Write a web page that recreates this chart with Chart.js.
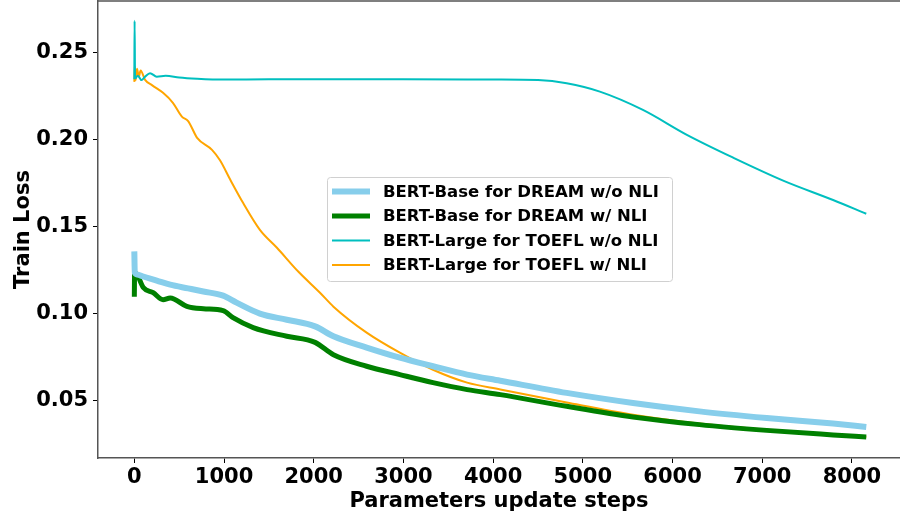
<!DOCTYPE html>
<html>
<head>
<meta charset="utf-8">
<script src="https://cdn.jsdelivr.net/npm/chart.js@4/dist/chart.umd.min.js"></script>
<style>
	html, body { margin: 0; padding: 0; background: #fff; }
	#lossChart { display: block; }
</style>
</head>
<body>
<canvas id="lossChart" width="900" height="516"></canvas>
<script>
const seriesLabels = [
	"BERT-Base for DREAM w/o NLI",
	"BERT-Base for DREAM w/ NLI",
	"BERT-Large for TOEFL w/o NLI",
	"BERT-Large for TOEFL w/ NLI",
];

// values (x = update step, y = train loss)
const baseNoNliSteps = [0, 5, 30, 100, 250, 400, 600, 770, 990, 1140, 1400, 1700, 2015, 2220, 2590, 2960, 3330, 3710, 4080, 4820, 5560, 6300, 7050, 7790, 8160];
const baseNoNliLoss = [0.1357, 0.1235, 0.1225, 0.1213, 0.119, 0.1166, 0.1145, 0.1127, 0.1103, 0.1063, 0.1, 0.0965, 0.0927, 0.087, 0.0805, 0.0747, 0.0698, 0.065, 0.0615, 0.0545, 0.0487, 0.0439, 0.0401, 0.0369, 0.035];

const baseNliSteps = [0, 3, 30, 100, 210, 320, 400, 585, 770, 990, 1100, 1325, 1700, 2015, 2220, 2590, 2960, 3330, 3710, 4080, 4820, 5560, 6300, 7050, 7790, 8160];
const baseNliLoss = [0.1097, 0.1235, 0.1225, 0.115, 0.112, 0.108, 0.109, 0.1042, 0.1028, 0.1017, 0.0977, 0.092, 0.087, 0.0835, 0.0764, 0.0698, 0.065, 0.0604, 0.0564, 0.0535, 0.0468, 0.0407, 0.0363, 0.033, 0.0304, 0.0292];

const largeNoNliSteps = [0, 3, 8, 40, 80, 120, 175, 250, 350, 500, 700, 1000, 1500, 2000, 3000, 4000, 4500, 4820, 5190, 5670, 6160, 6680, 7240, 7790, 8160];
const largeNoNliLoss = [0.2345, 0.268, 0.235, 0.2365, 0.234, 0.236, 0.238, 0.236, 0.2365, 0.2355, 0.2348, 0.2343, 0.2345, 0.2345, 0.2345, 0.2343, 0.234, 0.2322, 0.2274, 0.2169, 0.2026, 0.1894, 0.1762, 0.1652, 0.1573];

const largeNliSteps = [0, 5, 15, 30, 50, 70, 120, 200, 320, 430, 530, 600, 700, 866, 955, 1070, 1212, 1400, 1590, 1830, 2070, 2220, 2590, 2960, 3330, 3710, 4080, 4820, 5560, 6300, 7050, 7790, 8160];
const largeNliLoss = [0.233, 0.2418, 0.234, 0.2405, 0.236, 0.2395, 0.2341, 0.231, 0.2267, 0.221, 0.213, 0.2105, 0.2009, 0.194, 0.188, 0.1768, 0.1636, 0.1481, 0.1378, 0.124, 0.112, 0.104, 0.0891, 0.0776, 0.0678, 0.0604, 0.0565, 0.049, 0.042, 0.0369, 0.0334, 0.0307, 0.0292];

const xTicks = [0, 1000, 2000, 3000, 4000, 5000, 6000, 7000, 8000];
const yTicks = [0.05, 0.1, 0.15, 0.2, 0.25];

const skyblue = "#87ceeb";
const green = "#008000";
const cyan = "#00bfbf";
const orange = "#ffa500";

const tickFont = { family: "DejaVu Sans", size: 21, weight: "bold" };

function toPoints(steps, loss) {
	return steps.map((s, i) => ({ x: s, y: loss[i] }));
}

// matplotlib-like legend box sitting inside the plot
const boxLegend = {
	id: "boxLegend",
	afterDatasetsDraw(chart) {
		const ctx = chart.ctx;
		const left = 327.5, top = 177.5, w = 345, h = 104;
		ctx.save();
		ctx.beginPath();
		ctx.roundRect(left, top, w, h, 3);
		ctx.fillStyle = "rgba(255,255,255,0.8)";
		ctx.fill();
		ctx.strokeStyle = "#d0d0d0";
		ctx.lineWidth = 1;
		ctx.stroke();
		ctx.font = "bold 16.5px 'DejaVu Sans'";
		ctx.textBaseline = "middle";
		ctx.fillStyle = "#000";
		chart.data.datasets.forEach((ds, i) => {
			const y = 191.5 + i * 24.5;
			ctx.beginPath();
			ctx.moveTo(332, y);
			ctx.lineTo(370, y);
			ctx.strokeStyle = ds.borderColor;
			ctx.lineWidth = ds.borderWidth;
			ctx.stroke();
			ctx.fillText(ds.label, 383, y + 1);
		});
		ctx.restore();
	},
	afterDraw(chart) {
		const a = chart.chartArea;
		const ctx = chart.ctx;
		ctx.save();
		ctx.strokeStyle = "#555";
		ctx.lineWidth = 1.5;
		ctx.beginPath();
		ctx.moveTo(a.left, a.top);
		ctx.lineTo(a.right, a.top);
		ctx.stroke();
		ctx.restore();
	},
};

new Chart(document.getElementById("lossChart"), {
	type: "line",
	data: {
		datasets: [
			{ label: seriesLabels[0], data: toPoints(baseNoNliSteps, baseNoNliLoss), borderColor: skyblue, borderWidth: 6 },
			{ label: seriesLabels[1], data: toPoints(baseNliSteps, baseNliLoss), borderColor: green, borderWidth: 5 },
			{ label: seriesLabels[2], data: toPoints(largeNoNliSteps, largeNoNliLoss), borderColor: cyan, borderWidth: 2 },
			{ label: seriesLabels[3], data: toPoints(largeNliSteps, largeNliLoss), borderColor: orange, borderWidth: 2 },
		],
	},
	options: {
		responsive: false,
		animation: false,
		devicePixelRatio: 1,
		layout: { padding: { top: 1, left: 0, right: 0, bottom: 0 } },
		elements: {
			point: { radius: 0 },
			line: { tension: 0, cubicInterpolationMode: "monotone", borderJoinStyle: "round", fill: false },
		},
		plugins: {
			legend: { display: false },
			tooltip: { enabled: false },
		},
		scales: {
			x: {
				type: "linear",
				min: -405,
				max: 8536,
				afterBuildTicks: (scale) => {
					scale.ticks = xTicks.map((v) => ({ value: v }));
				},
				afterFit: (scale) => {
					scale.height = 58;
					scale.paddingLeft = 0;
					scale.paddingRight = 0;
				},
				ticks: { font: tickFont, color: "#000", padding: 2, maxRotation: 0, callback: (v) => String(v) },
				grid: { drawOnChartArea: false, drawTicks: true, tickLength: 5, color: "#000" },
				border: { color: "#555", width: 1.5 },
				title: { display: true, text: "Parameters update steps", font: tickFont, color: "#000", padding: { top: 0, bottom: 2 } },
			},
			y: {
				min: 0.01715,
				max: 0.2794,
				afterBuildTicks: (scale) => {
					scale.ticks = yTicks.map((v) => ({ value: v }));
				},
				afterFit: (scale) => {
					scale.width = 98;
					scale.paddingTop = 0;
					scale.paddingBottom = 0;
				},
				ticks: { font: tickFont, color: "#000", padding: 5, callback: (v) => v.toFixed(2) },
				grid: { drawOnChartArea: false, drawTicks: true, tickLength: 5, color: "#000" },
				border: { color: "#555", width: 1.5 },
				title: { display: true, text: "Train Loss", font: tickFont, color: "#000", padding: { top: 11, bottom: 0 } },
			},
		},
	},
	plugins: [boxLegend],
});
</script>
</body>
</html>
